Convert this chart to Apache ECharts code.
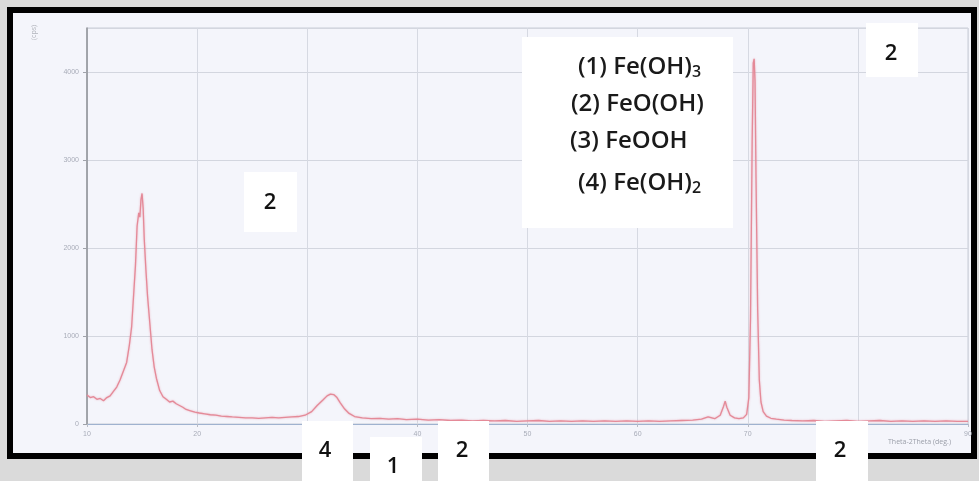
<!DOCTYPE html>
<html>
<head>
<meta charset="utf-8">
<script src="https://cdn.jsdelivr.net/npm/echarts@6/dist/echarts.min.js"></script>
<style>
html,body{margin:0;padding:0;background:#dadada;}
#chart{width:979px;height:481px;}
</style>
</head>
<body>
<div id="chart"></div>
<script>
// 2-theta (deg) positions
var twoTheta = [
 10.0,10.3,10.6,10.9,11.2,11.5,11.8,12.1,12.4,12.7,13.0,13.3,13.6,13.85,14.05,14.25,14.4,14.55,14.7,14.8,14.9,15.0,15.1,15.2,15.35,15.5,15.7,15.9,16.1,16.3,16.6,16.9,17.2,17.5,17.8,18.1,18.4,18.7,19.0,19.4,19.8,20.2,20.7,21.2,21.7,22.2,22.7,23.2,23.8,24.4,25.0,25.6,26.2,26.8,27.4,28.0,28.6,29.2,29.8,30.4,30.9,31.4,31.8,32.1,32.4,32.7,33.0,33.4,33.8,34.3,35.0,35.8,36.6,37.4,38.2,39.0,40.0,41.0,42.0,43.0,44.0,45.0,46.0,47.0,48.0,49.0,50.0,51.0,52.0,53.0,54.0,55.0,56.0,57.0,58.0,59.0,60.0,61.0,62.0,63.0,64.0,65.0,65.8,66.4,67.0,67.5,67.8,67.95,68.1,68.4,68.8,69.2,69.6,69.9,70.1,70.25,70.4,70.5,70.58,70.66,70.75,70.9,71.05,71.2,71.4,71.7,72.1,72.6,73.3,74.0,75.0,76.0,77.0,78.0,79.0,80.0,81.0,82.0,83.0,84.0,85.0,86.0,87.0,88.0,89.0,90.0
];
// intensity (counts)
var intensity = [
 330,300,310,280,290,265,300,320,370,420,500,600,700,900,1100,1500,1800,2250,2400,2350,2550,2620,2450,2100,1750,1450,1150,850,650,520,380,310,280,250,260,230,210,190,165,150,135,125,115,105,100,90,85,80,75,70,70,65,70,75,70,75,80,85,100,140,210,270,320,340,335,300,240,170,120,85,70,60,65,55,60,50,55,45,50,40,45,35,40,35,40,30,35,40,30,35,30,35,30,35,30,35,30,35,30,35,40,45,55,80,60,100,200,260,190,100,70,60,70,110,300,1200,3200,4100,4150,3900,2800,1300,500,250,140,90,65,55,45,40,35,40,30,35,40,30,35,40,30,35,30,35,30,35,30,30
];
var yTicks = [0,1000,2000,3000,4000];
var legendLines = ['(1) Fe(OH)', '(2) FeO(OH)', '(3) FeOOH', '(4) Fe(OH)'];
var legendSubs = ['3', '', '', '2'];
var boxLabels = ['2','2','4','1','2','2'];

var seriesData = twoTheta.map(function(t,i){return [t,intensity[i]];});

var chart = echarts.init(document.getElementById('chart'));
var fontFam = '"Open Sans", "Noto Sans", sans-serif';

function legendText(i, x, y){
  var txt = legendSubs[i] ? '{m|'+legendLines[i]+'}{s|'+legendSubs[i]+'}' : '{m|'+legendLines[i]+'}';
  return {type:'text', left:x, top:y, z:20, style:{text:txt, rich:{
    m:{fontSize:24, fontFamily:fontFam, fontWeight:600, fill:'#1a1a1a'},
    s:{fontSize:16, fontFamily:fontFam, fontWeight:600, fill:'#1a1a1a', verticalAlign:'bottom', padding:[10,0,0,0]}
  }}};
}
function box(x,y,w,h){return {type:'rect', z:15, shape:{x:x,y:y,width:w,height:h}, style:{fill:'#ffffff'}};}
function num(t,cx,cy){return {type:'text', z:20, x:cx, y:cy, style:{text:t, fontSize:22, fontFamily:fontFam, fontWeight:600, fill:'#111', align:'center', verticalAlign:'middle'}};}

var option = {
  backgroundColor:'#dadada',
  animation:false,
  grid:{left:87, right:11, top:28, bottom:57, show:true, backgroundColor:'#f4f5fb', borderColor:'#c9cdd6', borderWidth:1},
  xAxis:{type:'value', min:10, max:90, interval:10,
    axisLine:{onZero:false, lineStyle:{color:'#9fb2cf', width:1}},
    axisTick:{show:true, length:3, lineStyle:{color:'#b8bcc6'}},
    axisLabel:{fontSize:7, color:'#a8acb8', margin:7},
    splitLine:{show:true, lineStyle:{color:'#d6d9e2', width:1}}
  },
  yAxis:{type:'value', min:0, max:4500, interval:1000,
    axisLine:{show:true, lineStyle:{color:'#8e9096', width:1.5}},
    axisTick:{show:true, length:4, lineStyle:{color:'#a0a3aa'}},
    axisLabel:{fontSize:7, color:'#a8acb8', margin:8, showMaxLabel:false, formatter:function(v){return String(v);}},
    splitLine:{show:true, lineStyle:{color:'#d3d6df', width:1}}
  },
  series:[{type:'line', data:seriesData, showSymbol:false, smooth:false,
    lineStyle:{color:'#e48a98', width:1.3, shadowColor:'rgba(230,130,150,0.6)', shadowBlur:2}, z:5}],
  graphic:[
    {type:'rect', z:-1, shape:{x:10, y:10, width:964, height:446}, style:{fill:'#f4f5fb', stroke:'#000', lineWidth:6}},
    {type:'text', z:10, x:30, y:40, rotation:Math.PI/2, style:{text:'(cps)', fontSize:7, fill:'#b0b3bb', fontFamily:fontFam}},
    {type:'text', z:10, x:888, y:438, style:{text:'Theta-2Theta (deg.)', fontSize:7, fill:'#9a9ea8', fontFamily:fontFam}},
    box(522,37,211,191),
    legendText(0,578,55),
    legendText(1,571,92),
    legendText(2,570,129),
    legendText(3,578,171),
    box(866,23,52,54), num(boxLabels[0],891,54),
    box(244,172,53,60), num(boxLabels[1],270,203),
    box(302,421,51,60), num(boxLabels[2],325,451),
    box(370,437,52,44), num(boxLabels[3],393,467),
    box(438,421,51,60), num(boxLabels[4],462,451),
    box(816,421,52,60), num(boxLabels[5],840,451)
  ]
};
chart.setOption(option);
</script>
</body>
</html>
